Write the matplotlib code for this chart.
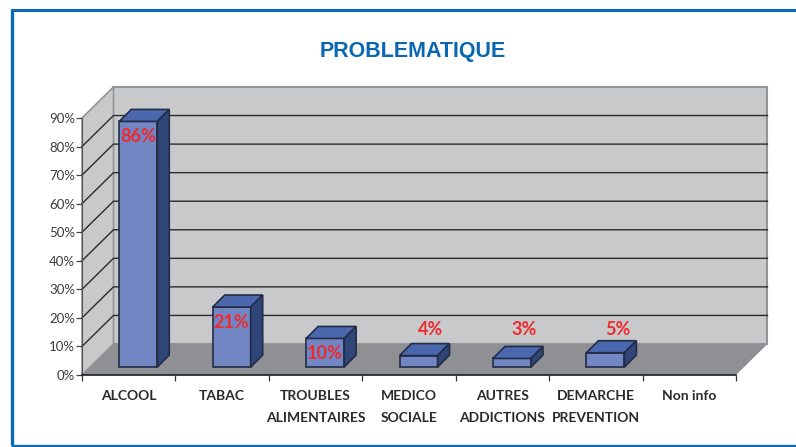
import matplotlib
matplotlib.use('Agg')
import matplotlib.pyplot as plt
from matplotlib.patches import Polygon
from matplotlib.lines import Line2D

categories = ['ALCOOL', 'TABAC', 'TROUBLES\nALIMENTAIRES', 'MEDICO\nSOCIALE',
              'AUTRES\nADDICTIONS', 'DEMARCHE\nPREVENTION', 'Non info']
values = [86, 21, 10, 4, 3, 5, None]
labels = ['86%', '21%', '10%', '4%', '3%', '5%', '']
yticks = [0, 10, 20, 30, 40, 50, 60, 70, 80, 90]

W, H = 796, 447
plt.rcParams['font.family'] = ['Lato', 'Liberation Sans', 'DejaVu Sans']

fig = plt.figure(figsize=(W / 100, H / 100), dpi=100)
# axes box = front of the floor, 82..736 px and 118..375 px
ax = fig.add_axes([82 / W, 1 - 375 / H, (736 - 82) / W, (375 - 118) / H])
ax.set_xlim(0, 7)
ax.set_ylim(0, 90)
ax.patch.set_visible(False)

# depth of the fake 3d box, in data units
wall_dx = 0.337
wall_dy = 10.86
# bars
bar_w = 0.407
bar_x = 0.399
bar_base = 2.8
bar_dx = 0.128
bar_dy = 4.2

wall_col = '#c8c9cb'
edge_col = '#949597'


def poly(pts, fc, ec='none', lw=0, z=1):
    ax.add_patch(Polygon(pts, closed=True, facecolor=fc, edgecolor=ec, linewidth=lw,
                         zorder=z, clip_on=False, joinstyle='miter'))


# back wall, side wall, floor
poly([(wall_dx, wall_dy), (7 + wall_dx, wall_dy), (7 + wall_dx, 90 + wall_dy), (wall_dx, 90 + wall_dy)],
     wall_col, edge_col, 1.5, 1)
poly([(0, 0), (wall_dx, wall_dy), (wall_dx, 90 + wall_dy), (0, 90)], wall_col, edge_col, 1.2, 1)
poly([(0, 0), (7, 0), (7 + wall_dx, wall_dy), (wall_dx, wall_dy)], '#8f9093', z=2)

# grid on both walls
for t in yticks[1:-1]:
    ax.plot([0, wall_dx, 7 + wall_dx], [t, t + wall_dy, t + wall_dy], color='#2b2b2d', lw=1.0,
            zorder=2, clip_on=False)

# bars
for i, v in enumerate(values):
    if v is None:
        continue
    x0 = i + bar_x
    x1 = x0 + bar_w
    y0 = bar_base
    y1 = bar_base + v
    poly([(x0, y0), (x1, y0), (x1, y1), (x0, y1)], '#7186c3', '#232c45', 1.2, 4)
    poly([(x0, y1), (x1, y1), (x1 + bar_dx, y1 + bar_dy), (x0 + bar_dx, y1 + bar_dy)], '#4b68ae', '#232c45', 1.2, 4)
    poly([(x1, y0), (x1 + bar_dx, y0 + bar_dy), (x1 + bar_dx, y1 + bar_dy), (x1, y1)], '#2f4679', '#232c45', 1.2, 4)

    # big bars carry the label on the front, small ones float above
    if v >= 10:
        tx, ty = x0 + bar_w / 2, y1 - 5.3
    else:
        tx, ty = x0 + bar_w / 2 + 0.13, 15.8
    ax.text(tx, ty, labels[i], color='#ee2a2e', fontsize=13, fontweight='bold',
            ha='center', va='center', zorder=6, clip_on=False)

for s in ['top', 'right']:
    ax.spines[s].set_visible(False)
ax.spines['left'].set_color('#555555')
ax.spines['left'].set_zorder(3)
ax.spines['bottom'].set_color('#1c1c1c')
ax.spines['bottom'].set_linewidth(1.2)
ax.spines['bottom'].set_zorder(3)

ax.set_yticks(yticks)
ax.set_yticklabels([str(t) + '%' for t in yticks])
ax.tick_params(axis='y', length=4, width=0.9, color='#444444', pad=1,
               labelsize=9.5, labelcolor='#3c3c3c')
ax.set_xticks(range(8))
ax.set_xticklabels([])
ax.tick_params(axis='x', which='major', length=4.5, width=0.9, color='#333333')
ax.set_xticks([i + 0.5 for i in range(7)], minor=True)
ax.set_xticklabels(categories, minor=True, fontsize=10, fontweight='bold', color='#2a2a2a',
                   linespacing=1.95)
ax.tick_params(axis='x', which='minor', length=0, pad=11)

fig.text(413 / W, 1 - 52 / H, 'PROBLEMATIQUE', color='#0a68b0', fontsize=15.5, fontweight='bold',
         family=['Liberation Sans'], ha='center', va='center')

# blue frame of the page
frame = '#0a6ab5'
fig.add_artist(Line2D([12.5 / W, 12.5 / W], [1 - 9 / H, 1 - 445 / H], color=frame, lw=2.4,
                      solid_capstyle='butt', transform=fig.transFigure))
fig.add_artist(Line2D([11 / W, 1], [1 - 9.5 / H, 1 - 9.5 / H], color=frame, lw=2.2,
                      solid_capstyle='butt', transform=fig.transFigure))
fig.add_artist(Line2D([11 / W, 1], [1 - 445.5 / H, 1 - 445.5 / H], color=frame, lw=2.4,
                      solid_capstyle='butt', transform=fig.transFigure))

fig.savefig('out.png', dpi=100)
